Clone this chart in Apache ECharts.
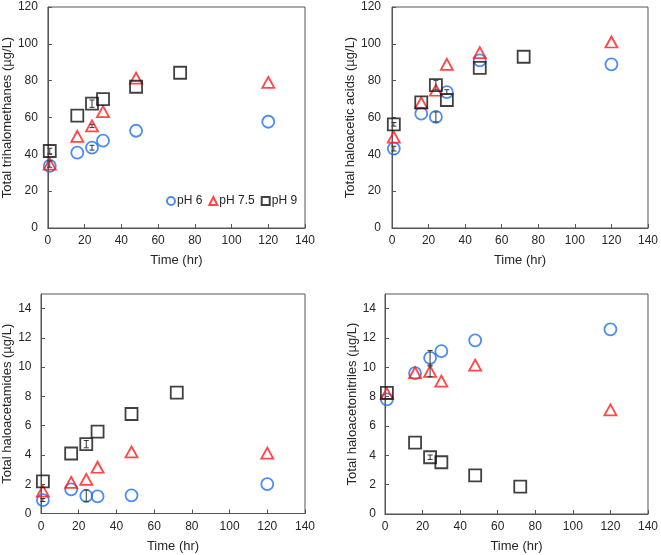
<!DOCTYPE html>
<html><head><meta charset="utf-8">
<script src="https://cdn.jsdelivr.net/npm/echarts@6/dist/echarts.min.js"></script>
<style>html,body{margin:0;padding:0;background:#fff}#c{width:661px;height:555px}</style>
</head><body><div id="c"></div>
<script>
// Times (hr)
const timesA = [1, 16, 24, 30, 48, 120];   // pH 6 and pH 7.5
const timesB = [1, 16, 24, 30, 48, 72];    // pH 9
const seriesNames = ['pH 6', 'pH 7.5', 'pH 9'];
const xTicks = [0, 20, 40, 60, 80, 100, 120, 140];

// Total trihalomethanes (µg/L)
const thm_pH6  = [33.7, 40.9, 43.6, 47.4, 52.8, 57.7];
const thm_pH75 = [34.7, 49.8, 55.4, 63.2, 81.4, 79.1];
const thm_pH9  = [41.8, 61.0, 67.5, 70.0, 76.7, 84.3];
// Total haloacetic acids (µg/L)
const haa_pH6  = [43.1, 62.1, 60.3, 73.8, 91.0, 88.9];
const haa_pH75 = [49.4, 68.0, 74.8, 88.9, 95.2, 101.0];
const haa_pH9  = [56.3, 68.2, 77.6, 69.5, 86.9, 93.0];
// Total haloacetamides (µg/L)
const ham_pH6  = [0.92, 1.65, 1.21, 1.17, 1.24, 2.01];
const ham_pH75 = [1.53, 2.13, 2.33, 3.16, 4.21, 4.12];
const ham_pH9  = [2.20, 4.10, 4.74, 5.60, 6.80, 8.26];
// Total haloacetonitriles (µg/L)
const han_pH6  = [7.81, 9.60, 10.65, 11.10, 11.84, 12.59];
const han_pH75 = [8.20, 9.63, 9.72, 9.06, 10.15, 7.10];
const han_pH9  = [8.26, 4.87, 3.87, 3.53, 2.64, 1.87];

// Error bars: [time, low, high]
const thm_err = [[1, 40.3, 43.3], [24, 65.5, 69.5], [24, 42.3, 44.9], [1, 33.0, 36.4], [24, 54.5, 56.3]];
const haa_err = [[1, 55.3, 57.3], [24, 75.0, 80.2], [24, 57.6, 63.0], [1, 41.8, 44.4], [30, 72.5, 75.1]];
const ham_err = [[24, 4.49, 4.99], [24, 0.81, 1.61], [1, 0.82, 1.02]];
const han_err = [[24, 10.15, 11.15], [24, 3.72, 4.02], [24, 9.35, 10.09]];

const FONT = 'Liberation Sans, Arial, sans-serif';
const TXT = '#262626';
const BLUE = '#1f6ff0', RED = '#ff1a1a', BLACK = '#111111';

const grids = [
  {left: 47, top: 7, width: 258, height: 221},
  {left: 392, top: 7, width: 257, height: 221},
  {left: 41, top: 294, width: 264, height: 219.5},
  {left: 385, top: 294, width: 264, height: 220}
];
const yNames = ['Total trihalomethanes (µg/L)', 'Total haloacetic acids (µg/L)',
                'Total haloacetamides (µg/L)', 'Total haloacetonitriles (µg/L)'];
const yNameGaps = [28.5, 33, 24.5, 26.5];
const yLabelMargins = [10, 11, 9.5, 9];
const yMax = [120, 120, 15, 15];
const yInt = [20, 20, 2, 2];

const panelData = [
  [thm_pH6, thm_pH75, thm_pH9, thm_err],
  [haa_pH6, haa_pH75, haa_pH9, haa_err],
  [ham_pH6, ham_pH75, ham_pH9, ham_err],
  [han_pH6, han_pH75, han_pH9, han_err]
];

const xAxis = grids.map((g, i) => ({
  gridIndex: i, type: 'value', min: 0, max: 140, interval: 20,
  name: 'Time (hr)', nameLocation: 'middle', nameGap: 26,
  nameTextStyle: {fontFamily: FONT, fontSize: 13, color: TXT},
  axisLine: {show: true, lineStyle: {color: '#555', width: 1}},
  axisTick: {show: true, inside: true, length: 4, lineStyle: {color: '#555'}},
  axisLabel: {fontFamily: FONT, fontSize: 12, color: TXT, margin: 7,
              formatter: v => xTicks.includes(v) ? String(v) : ''},
  splitLine: {show: false}
}));
const yAxis = grids.map((g, i) => ({
  gridIndex: i, type: 'value', min: 0, max: yMax[i], interval: yInt[i],
  name: yNames[i], nameLocation: 'middle', nameGap: yNameGaps[i], nameRotate: 90,
  nameTextStyle: {fontFamily: FONT, fontSize: 13, color: TXT},
  axisLine: {show: true, lineStyle: {color: '#555', width: 1}},
  axisTick: {show: true, inside: true, length: 4, lineStyle: {color: '#555'}},
  axisLabel: {fontFamily: FONT, fontSize: 12, color: TXT, margin: yLabelMargins[i],
              showMaxLabel: yMax[i] === 120,
              formatter: v => (v % yInt[i] === 0) ? String(v) : ''},
  splitLine: {show: false}
}));

const series = [];
const colors = [BLUE, RED, BLACK];
const symbols = ['circle', 'triangle', 'rect'];
const sizes = [[12, 12], [12, 11], [12, 12]];
panelData.forEach((pd, i) => {
  for (let k = 0; k < 3; k++) {
    const ts = k === 2 ? timesB : timesA;
    series.push({
      name: seriesNames[k], type: 'scatter', xAxisIndex: i, yAxisIndex: i,
      symbol: symbols[k], symbolSize: sizes[k],
      itemStyle: {color: 'rgba(0,0,0,0)', borderColor: colors[k], borderWidth: 1.8},
      emphasis: {disabled: true}, z: 2 + k,
      data: ts.map((t, j) => [t, pd[k][j]])
    });
  }
  series.push({
    type: 'custom', xAxisIndex: i, yAxisIndex: i, z: 10, silent: true,
    data: pd[3],
    renderItem: (params, api) => {
      const x = api.value(0);
      const lo = api.coord([x, api.value(1)]);
      const hi = api.coord([x, api.value(2)]);
      const w = 2.5;
      const st = {stroke: '#333', lineWidth: 1};
      return {type: 'group', children: [
        {type: 'line', shape: {x1: lo[0], y1: lo[1], x2: hi[0], y2: hi[1]}, style: st},
        {type: 'line', shape: {x1: lo[0]-w, y1: lo[1], x2: lo[0]+w, y2: lo[1]}, style: st},
        {type: 'line', shape: {x1: hi[0]-w, y1: hi[1], x2: hi[0]+w, y2: hi[1]}, style: st}
      ]};
    }
  });
});

const chart = echarts.init(document.getElementById('c'), null, {renderer: 'canvas'});
chart.setOption({
  animation: false,
  backgroundColor: '#fff',
  grid: grids.map(g => Object.assign({show: true, borderColor: '#555', borderWidth: 1, backgroundColor: 'transparent', containLabel: false}, g)),
  xAxis, yAxis,
  legend: {
    left: 166, top: 195, itemGap: 6, itemWidth: 8, itemHeight: 8, padding: 0,
    textStyle: {fontFamily: FONT, fontSize: 12, color: TXT, padding: [0, 0, 0, -3]},
    selectedMode: false,
    data: [
      {name: 'pH 6', icon: 'circle', itemStyle: {color: 'rgba(0,0,0,0)', borderColor: BLUE, borderWidth: 2}},
      {name: 'pH 7.5', icon: 'triangle', itemStyle: {color: 'rgba(0,0,0,0)', borderColor: RED, borderWidth: 2}},
      {name: 'pH 9', icon: 'rect', itemStyle: {color: 'rgba(0,0,0,0)', borderColor: BLACK, borderWidth: 2}}
    ]
  },
  series
});
</script></body></html>
